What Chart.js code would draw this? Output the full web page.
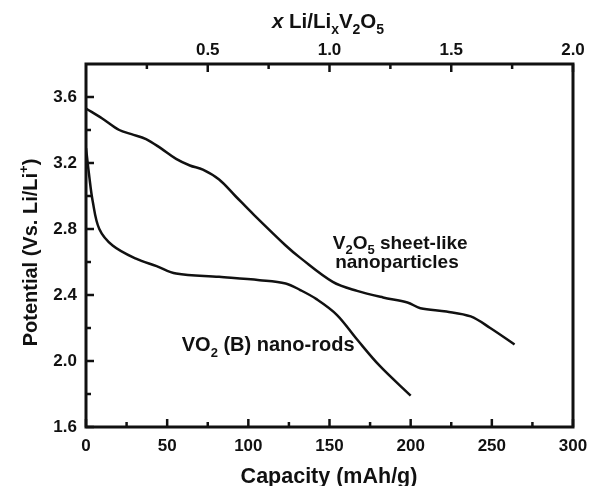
<!DOCTYPE html>
<html>
<head>
<meta charset="utf-8">
<script src="https://cdn.jsdelivr.net/npm/chart.js@4"></script>
<style>
  html,body{margin:0;padding:0;background:#fff;}
  #wrap{width:590px;height:486px;}
</style>
</head>
<body>
<div id="wrap"><canvas id="chart" width="590" height="486"></canvas></div>
<script>
// capacity (mAh/g) vs potential (V)
const v2o5Cap = [0, 10, 20.5, 28, 37, 46, 55.5, 64, 72, 82, 92, 103, 123, 132, 152, 167, 183, 198, 206, 222, 237, 249, 264];
const v2o5V   = [3.53, 3.47, 3.40, 3.375, 3.345, 3.29, 3.225, 3.185, 3.16, 3.10, 3.00, 2.89, 2.70, 2.625, 2.48, 2.425, 2.385, 2.355, 2.32, 2.30, 2.27, 2.20, 2.10];
const vo2Cap  = [0, 2, 4.1, 8.2, 16.4, 30.8, 43.5, 55.5, 82, 107, 123, 132, 142, 154.5, 167, 181, 200];
const vo2V    = [3.29, 3.12, 2.97, 2.80, 2.70, 2.62, 2.575, 2.53, 2.51, 2.49, 2.47, 2.43, 2.375, 2.28, 2.13, 1.97, 1.79];

const xTicks = [0, 50, 100, 150, 200, 250, 300];
const xMinor = [25, 75, 125, 175, 225, 275];
const yTicks = [1.6, 2.0, 2.4, 2.8, 3.2, 3.6];
const yMinor = [1.8, 2.2, 2.6, 3.0, 3.4];
const topTicks = [0.5, 1.0, 1.5, 2.0];
const topMinor = [0.25, 0.75, 1.25, 1.75];

const FONT = "'Liberation Sans', Arial, sans-serif";
const INK = '#111';

const toPts = (xs, ys) => xs.map((x, i) => ({x, y: ys[i]}));

// text runs with sub/superscripts: [[text, 'sub'|'sup'|'it'|'']]
function fontFor(kind, size){
  const small = kind === 'sub' || kind === 'sup';
  return `${kind === 'it' ? 'italic ' : ''}bold ${small ? Math.round(size * 0.66) : size}px ${FONT}`;
}
function drawRuns(ctx, runs, x, y, size){
  runs.forEach(([t, kind]) => {
    ctx.font = fontFor(kind, size);
    const dy = kind === 'sub' ? size * 0.28 : kind === 'sup' ? -size * 0.45 : 0;
    ctx.fillText(t, x, y + dy);
    x += ctx.measureText(t).width;
  });
}
function runsWidth(ctx, runs, size){
  return runs.reduce((w, [t, kind]) => {
    ctx.font = fontFor(kind, size);
    return w + ctx.measureText(t).width;
  }, 0);
}

const frame = {
  id: 'frame',
  afterDraw(chart){
    const {ctx, chartArea: a, scales} = chart;
    const sx = scales.x, sy = scales.y, st = scales.x2;
    ctx.save();
    ctx.strokeStyle = INK;
    ctx.lineWidth = 3;
    ctx.strokeRect(a.left, a.top, a.right - a.left, a.bottom - a.top);
    ctx.lineWidth = 2.5;
    const tick = (x1, y1, x2, y2) => { ctx.beginPath(); ctx.moveTo(x1, y1); ctx.lineTo(x2, y2); ctx.stroke(); };
    xTicks.forEach(v => { const p = sx.getPixelForValue(v); tick(p, a.bottom, p, a.bottom - 8); });
    xMinor.forEach(v => { const p = sx.getPixelForValue(v); tick(p, a.bottom, p, a.bottom - 5); });
    topTicks.forEach(v => { const p = st.getPixelForValue(v); tick(p, a.top, p, a.top + 8); });
    topMinor.forEach(v => { const p = st.getPixelForValue(v); tick(p, a.top, p, a.top + 5); });
    yTicks.forEach(v => { const p = sy.getPixelForValue(v); tick(a.left, p, a.left + 8, p); });
    yMinor.forEach(v => { const p = sy.getPixelForValue(v); tick(a.left, p, a.left + 5, p); });

    ctx.fillStyle = INK;
    ctx.textBaseline = 'alphabetic';
    ctx.textAlign = 'left';
    // bottom title
    const bt = [['Capacity (mAh/g)', '']];
    drawRuns(ctx, bt, 329 - runsWidth(ctx, bt, 21.5) / 2, 483, 21.5);
    // top title
    const tt = [['x', 'it'], [' Li/Li', ''], ['x', 'sub'], ['V', ''], ['2', 'sub'], ['O', ''], ['5', 'sub']];
    drawRuns(ctx, tt, 328 - runsWidth(ctx, tt, 20.5) / 2, 28, 20.5);
    // left title
    const lt = [['Potential (Vs. Li/Li', ''], ['+', 'sup'], [')', '']];
    ctx.save();
    ctx.translate(37, (a.top + a.bottom) / 2 + 7);
    ctx.rotate(-Math.PI / 2);
    drawRuns(ctx, lt, -runsWidth(ctx, lt, 20) / 2, 0, 20);
    ctx.restore();
    // curve labels
    drawRuns(ctx, [['V', ''], ['2', 'sub'], ['O', ''], ['5', 'sub'], [' sheet-like', '']], sx.getPixelForValue(152), sy.getPixelForValue(2.68), 19);
    drawRuns(ctx, [['nanoparticles', '']], sx.getPixelForValue(153.5), sy.getPixelForValue(2.565), 19);
    drawRuns(ctx, [['VO', ''], ['2', 'sub'], [' (B) nano-rods', '']], sx.getPixelForValue(59), sy.getPixelForValue(2.06), 20);
    ctx.restore();
  }
};

const lineStyle = {showLine: true, borderColor: INK, borderWidth: 2.5, pointRadius: 0, fill: false, tension: 0.35};
const tickFont = {family: FONT, size: 17, weight: 'bold'};
const noGrid = {display: false, drawTicks: false, tickLength: 0};
const noPad = s => { s.paddingLeft = 0; s.paddingRight = 0; s.paddingTop = 0; s.paddingBottom = 0; };

new Chart(document.getElementById('chart'), {
  type: 'scatter',
  data: {
    datasets: [
      {label: 'V2O5 sheet-like nanoparticles', data: toPts(v2o5Cap, v2o5V), ...lineStyle},
      {label: 'VO2 (B) nano-rods', data: toPts(vo2Cap, vo2V), ...lineStyle}
    ]
  },
  options: {
    responsive: false,
    animation: false,
    layout: {padding: {left: 0, right: 17, top: 0, bottom: 0}},
    plugins: {legend: {display: false}, tooltip: {enabled: false}},
    scales: {
      x: {
        type: 'linear', position: 'bottom', min: 0, max: 300,
        afterFit: s => { s.height = 59; noPad(s); },
        afterBuildTicks: s => { s.ticks = xTicks.map(v => ({value: v})); },
        grid: noGrid, border: {display: false},
        ticks: {color: INK, padding: 9, maxRotation: 0, font: tickFont, callback: v => String(v)}
      },
      x2: {
        type: 'linear', position: 'top', min: 0, max: 2,
        afterFit: s => { s.height = 64; noPad(s); },
        afterBuildTicks: s => { s.ticks = topTicks.map(v => ({value: v})); },
        grid: noGrid, border: {display: false},
        ticks: {color: INK, padding: 3, maxRotation: 0, font: tickFont, callback: v => Number(v).toFixed(1)}
      },
      y: {
        type: 'linear', position: 'left', min: 1.6, max: 3.8,
        afterFit: s => { s.width = 86; noPad(s); },
        afterBuildTicks: s => { s.ticks = yTicks.map(v => ({value: v})); },
        grid: noGrid, border: {display: false},
        ticks: {color: INK, padding: 9, font: tickFont, callback: v => Number(v).toFixed(1)}
      }
    }
  },
  plugins: [frame]
});
</script>
</body>
</html>
